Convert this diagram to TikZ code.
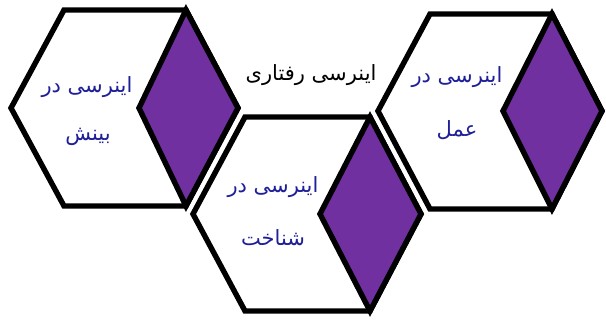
\documentclass[tikz,border=0pt]{standalone}
\usepackage{fontspec}
\newfontfamily\arabicfont[Script=Arabic]{DejaVu Sans}
\TeXXeTstate=1
\definecolor{hexpurple}{HTML}{7030A0}
\definecolor{hexblue}{HTML}{1F1F9A}
\begin{document}
\begin{tikzpicture}[x=1pt,y=-1pt,
  hexline/.style={draw=black,line width=5.4pt,fill=white,line join=miter},
  diamondline/.style={draw=black,line width=5.4pt,fill=hexpurple,line join=miter},
  bluetext/.style={text=hexblue,font=\arabicfont\fontsize{21}{24}\selectfont,inner sep=0pt},
  blacktext/.style={text=black,font=\arabicfont\fontsize{21}{24}\selectfont,inner sep=0pt}]
\useasboundingbox (0,0) rectangle (606,323);
% left hexagon
\draw[hexline] (11,108) -- (64,10) -- (186,10) -- (238,108) -- (186,206) -- (64,206) -- cycle;
\draw[diamondline] (186,10) -- (238,108) -- (186,206) -- (139,108) -- cycle;
% right hexagon
\draw[hexline] (378,111) -- (430,14) -- (552,14) -- (602,111) -- (552,209) -- (430,209) -- cycle;
\draw[diamondline] (552,14) -- (602,111) -- (552,209) -- (503,111) -- cycle;
% middle hexagon
\draw[hexline] (193,214) -- (245,117) -- (370,117) -- (421,214) -- (370,311) -- (245,311) -- cycle;
\draw[diamondline] (370,117) -- (421,214) -- (370,311) -- (320,214) -- cycle;
% texts
\node[bluetext] (l1) at (87,87) {\beginR اینرسی در\endR};
\node[bluetext] (l2) at (88,137) {\beginR بینش\endR};
\node[bluetext] (m1) at (273,187) {\beginR اینرسی در\endR};
\node[bluetext] (m2) at (273,238) {\beginR شناخت\endR};
\node[bluetext] (r1) at (457,77) {\beginR اینرسی در\endR};
\node[bluetext] (r2) at (457,130) {\beginR عمل\endR};
\node[blacktext] (c) at (311,75) {\beginR اینرسی رفتاری\endR};
\end{tikzpicture}
\end{document}
